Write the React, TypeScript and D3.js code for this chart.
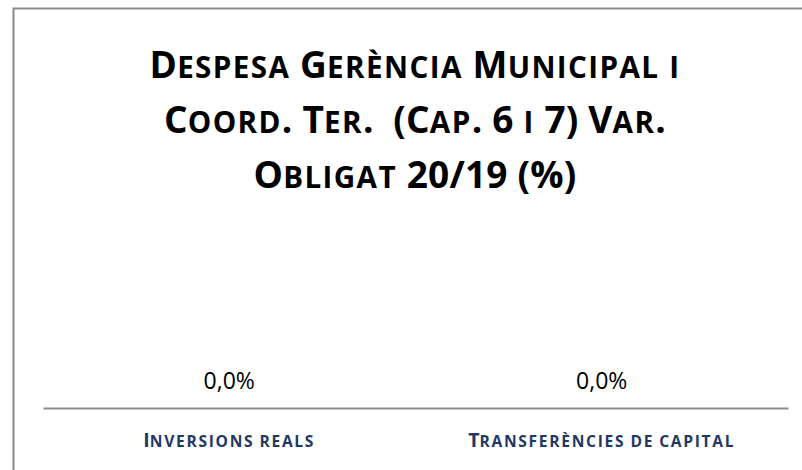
import React, { useEffect, useRef } from 'react';
import * as d3 from 'd3';

// Chart data
const categories = ['Inversions reals', 'Transferències de capital'];
const values = [0, 0]; // variació en %
const titleLines = [
  'Despesa Gerència Municipal i',
  'Coord. Ter.  (Cap. 6 i 7) Var.',
  'Obligat 20/19 (%)',
];

const W = 802;
const H = 470;
const FONT = '"Open Sans", Lato, sans-serif';

const caLocale = d3.formatLocale({
  decimal: ',',
  thousands: '.',
  grouping: [3],
  currency: ['', ' €'],
});
const fmt = (v: number) => caLocale.format('.1f')(v) + '%';

// split text into runs for synthesized small caps
const smallCapsRuns = (s: string) => {
  const runs: { text: string; small: boolean }[] = [];
  for (const ch of s) {
    const small = ch !== ch.toUpperCase();
    const last = runs[runs.length - 1];
    if (last && last.small === small) last.text += small ? ch.toUpperCase() : ch;
    else runs.push({ text: small ? ch.toUpperCase() : ch, small });
  }
  return runs;
};

const addSmallCaps = (
  sel: d3.Selection<SVGTextElement, unknown, null, undefined>,
  s: string,
  size: number,
  ratio: number,
  spacing: number,
  smallSpacing: number
) => {
  smallCapsRuns(s).forEach((r) => {
    sel
      .append('tspan')
      .attr('font-size', r.small ? size * ratio : size)
      .attr('letter-spacing', r.small ? spacing + smallSpacing : spacing)
      .text(r.text);
  });
};

const Chart: React.FC = () => {
  const ref = useRef<SVGSVGElement>(null);

  useEffect(() => {
    if (!ref.current) return;
    const svg = d3.select(ref.current);
    svg.selectAll('*').remove();

    const margin = { top: 230, right: 14, bottom: 62, left: 43 };

    // outer frame
    svg
      .append('rect')
      .attr('x', 13.5)
      .attr('y', 8.5)
      .attr('width', W)
      .attr('height', H)
      .attr('fill', '#ffffff')
      .attr('stroke', '#8a8a8a')
      .attr('stroke-width', 2);

    // title
    titleLines.forEach((line, i) => {
      const t = svg
        .append('text')
        .attr('x', 415)
        .attr('y', 78 + i * 55)
        .attr('text-anchor', 'middle')
        .attr('font-family', FONT)
        .attr('font-weight', 'bold')
        .attr('fill', '#000000')
        .style('white-space', 'pre');
      addSmallCaps(t, line, 37, 0.8, 0.2, 1.2);
    });

    const x = d3
      .scaleBand<string>()
      .domain(categories)
      .range([margin.left, W - margin.right])
      .padding(0);

    const y = d3
      .scaleLinear()
      .domain([0, 1])
      .range([408, margin.top]);

    // bars (zero height)
    svg
      .selectAll('.bar')
      .data(values)
      .enter()
      .append('rect')
      .attr('class', 'bar')
      .attr('x', (_, i) => x(categories[i])! + x.bandwidth() * 0.2)
      .attr('width', x.bandwidth() * 0.6)
      .attr('y', (d) => Math.min(y(d), y(0)))
      .attr('height', (d) => Math.abs(y(d) - y(0)))
      .attr('fill', '#1F3864');

    // x axis line
    const xAxis = d3.axisBottom(x).tickSize(0).tickFormat(() => '');
    svg
      .append('g')
      .attr('transform', `translate(0,${y(0)})`)
      .call(xAxis)
      .call((g) => g.select('.domain').attr('stroke', '#8a8a8a').attr('stroke-width', 2));

    // value labels
    svg
      .selectAll('.value-label')
      .data(values)
      .enter()
      .append('text')
      .attr('class', 'value-label')
      .attr('x', (_, i) => x(categories[i])! + x.bandwidth() / 2)
      .attr('y', (d) => y(Math.max(d, 0)) - 19)
      .attr('text-anchor', 'middle')
      .attr('font-family', FONT)
      .attr('font-size', 23)
      .attr('fill', '#000000')
      .text((d) => fmt(d));

    // category labels
    categories.forEach((c) => {
      const t = svg
        .append('text')
        .attr('x', x(c)! + x.bandwidth() / 2)
        .attr('y', y(0) + 39)
        .attr('text-anchor', 'middle')
        .attr('font-family', FONT)
        .attr('font-weight', 'bold')
        .attr('fill', '#1F3864');
      addSmallCaps(t, c, 19.5, 0.8, 0, 1.7);
    });
  }, []);

  return (
    <svg
      ref={ref}
      width={W}
      height={H}
      style={{ position: 'fixed', left: 0, top: 0, background: '#ffffff' }}
    />
  );
};

export default function App() {
  return <Chart />;
}
